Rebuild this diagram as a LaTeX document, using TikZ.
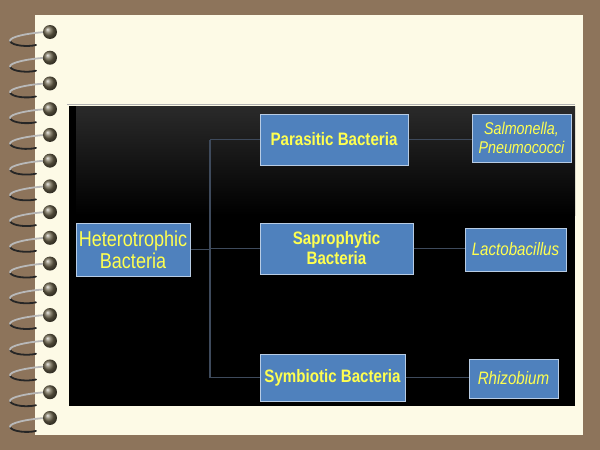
\documentclass[tikz,border=0pt]{standalone}
\usepackage{fontspec}
\setmainfont{Liberation Sans}
\newfontfamily\narrowsans{Liberation Sans}[FakeStretch=0.84]
\usetikzlibrary{positioning}
\definecolor{deskbrown}{RGB}{141,116,91}
\definecolor{paper}{RGB}{253,250,230}
\definecolor{boxblue}{RGB}{79,129,189}
\definecolor{boxedge}{RGB}{184,204,228}
\definecolor{labelyellow}{RGB}{255,255,80}
\definecolor{linkgray}{RGB}{62,74,92}
\definecolor{holedark}{RGB}{110,102,78}
\tikzset{
  catnode/.style = {draw=boxedge, fill=boxblue, line width=1pt, text=labelyellow, align=center, inner sep=0pt, text centered},
  rootnode/.style = {catnode, font=\narrowsans\fontsize{21.5}{22}\selectfont},
  groupnode/.style = {catnode, font=\narrowsans\bfseries\fontsize{18}{20}\selectfont},
  examplenode/.style = {catnode, font=\narrowsans\itshape\fontsize{18}{19}\selectfont},
  link/.style = {draw=linkgray, line width=1.2pt},
  ringwire/.style = {line width=1.8pt, line cap=round},
}

\begin{document}
\begin{tikzpicture}[x=1pt, y=-1pt]
\useasboundingbox (0,0) rectangle (600,450);
\fill[deskbrown] (0,0) rectangle (600,450);
\fill[paper] (35,15) rectangle (583,435);
% spiral binding
\foreach \i in {0,...,15}{
  \pgfmathsetmacro\ry{32+25.73*\i}
  \draw[ringwire, black!85] (10,\ry+9) .. controls (12,\ry+14) and (28,\ry+15) .. (36,\ry+13);
  \draw[ringwire, gray!55] (46,\ry) .. controls (28,\ry+1) and (9,\ry+5) .. (10,\ry+9);
  \shade[ball color=holedark] (50,\ry) circle (7);
}
% dark panel
\fill[black] (69,106) rectangle (575,406);
\shade[top color={rgb,255:red,42;green,42;blue,42}, bottom color=black] (76,106) rectangle (575,215);
\draw[black!30, line width=0.6pt] (67,104) -- (575,104);

\node[rootnode, minimum width=114, minimum height=53] (het) at (133,249.5) {Heterotrophic\\Bacteria};

\node[groupnode, minimum width=148, minimum height=51] (parasitic) at (334,139.5) {Parasitic Bacteria};
\node[groupnode, minimum width=153, minimum height=51] (saprophytic) at (336.5,248.5) {Saprophytic\\Bacteria};
\node[groupnode, minimum width=145, minimum height=47] (symbiotic) at (332.5,377.5) {Symbiotic Bacteria};

\node[examplenode, font=\narrowsans\itshape\fontsize{17}{19}\selectfont, minimum width=99, minimum height=48] (salmonella) at (521.5,138) {Salmonella,\\Pneumococci};
\node[examplenode, minimum width=101, minimum height=43] (lacto) at (515.5,249.5) {Lactobacillus};
\node[examplenode, minimum width=89, minimum height=39] (rhizo) at (513.5,378.5) {Rhizobium};

\coordinate (trunk) at (210,249.5);
\path[link] (het.east) -- (trunk);
\path[link] (parasitic.west -| trunk) -- (symbiotic.west -| trunk);
\path[link] (parasitic.west -| trunk) -- (parasitic.west);
\path[link] (saprophytic.west -| trunk) -- (saprophytic.west);
\path[link] (symbiotic.west -| trunk) -- (symbiotic.west);

\path[link] (parasitic.east) -- (parasitic.east -| salmonella.west);
\path[link] (saprophytic.east) -- (saprophytic.east -| lacto.west);
\path[link] (symbiotic.east) -- (symbiotic.east -| rhizo.west);
\end{tikzpicture}
\end{document}
